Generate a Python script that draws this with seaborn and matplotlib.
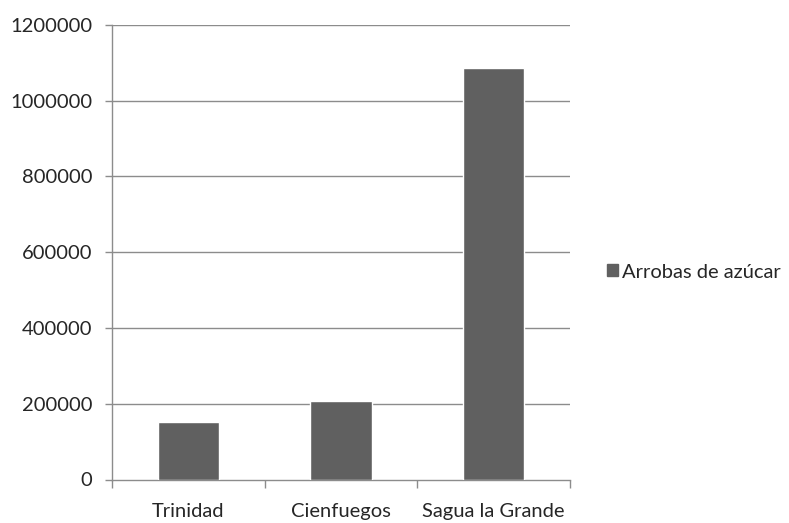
import matplotlib
matplotlib.use("Agg")
import matplotlib.pyplot as plt
import matplotlib.patches as mpatches
import seaborn as sns
import pandas as pd

# Sugar production by district (arrobas)
districts = ["Trinidad", "Cienfuegos", "Sagua la Grande"]
arrobas = [151000, 208000, 1087000]
series_name = "Arrobas de azúcar"
y_ticks = [0, 200000, 400000, 600000, 800000, 1000000, 1200000]

sns.set_theme(style="white")
plt.rcParams["font.family"] = ["Lato", "DejaVu Sans"]

bar_color = "#606060"
grid_color = "#8c8c8c"
text_color = "#262626"
fs = 14.5

df = pd.DataFrame({"district": districts, "arrobas": arrobas})

fig = plt.figure(figsize=(7.89, 5.23), dpi=100)
ax = fig.add_axes([112 / 789, 1 - 479.5 / 523, (570 - 112) / 789, (479.5 - 25) / 523])

sns.barplot(data=df, x="district", y="arrobas", color=bar_color, width=0.4,
            saturation=1, ax=ax, zorder=3)

ax.set_xlim(-0.5, len(districts) - 0.5)
ax.set_ylim(y_ticks[0], y_ticks[-1])
ax.set_yticks(y_ticks)
ax.set_yticklabels([str(v) for v in y_ticks])
ax.set_xlabel("")
ax.set_ylabel("")

# horizontal gridlines
for v in y_ticks[1:]:
    ax.axhline(v, color=grid_color, lw=1.0, zorder=1)

for side in ("top", "right"):
    ax.spines[side].set_visible(False)
for side in ("left", "bottom"):
    ax.spines[side].set_color(grid_color)
    ax.spines[side].set_linewidth(1.0)

# category separators as outward tick marks on the x axis
ax.set_xticks([i - 0.5 for i in range(len(districts) + 1)], minor=True)
ax.tick_params(axis="x", which="minor", length=6, width=1.0, color=grid_color,
               direction="out", bottom=True)
ax.tick_params(axis="x", which="major", length=0, pad=17, labelsize=fs,
               labelcolor=text_color)
ax.tick_params(axis="y", which="major", length=5, width=1.0, color=grid_color,
               direction="out", left=True, pad=9, labelsize=fs,
               labelcolor=text_color)

handle = mpatches.Patch(color=bar_color, label=series_name)
fig.legend(handles=[handle], loc="center left", bbox_to_anchor=(597 / 789, 1 - 272 / 523),
           frameon=False, fontsize=fs, handlelength=0.55, handleheight=0.55,
           handletextpad=0.2, labelcolor=text_color, borderpad=0)

fig.savefig("out.png", dpi=100)
